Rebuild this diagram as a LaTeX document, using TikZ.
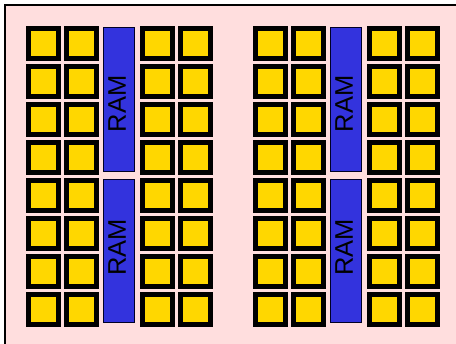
\documentclass[tikz,border=0pt]{standalone}
\usepackage{fontspec}
\setsansfont{Liberation Sans}
\definecolor{board}{RGB}{255,222,222}
\definecolor{core}{RGB}{255,215,0}
\definecolor{ramblue}{RGB}{51,51,221}
\tikzset{
	cell/.style={draw=black, line width=5pt, fill=core, minimum size=30pt, inner sep=0pt},
	ram/.style={draw=black!85!blue, line width=1pt, fill=ramblue, minimum width=31.5pt, minimum height=143.5pt, inner sep=0pt},
	ramlabel/.style={rotate=90, inner sep=0pt, font=\sffamily\fontsize{25.5}{26}\selectfont}
}
\begin{document}
\begin{tikzpicture}[x=1pt,y=-1pt]
			\clip (0,0) rectangle (456,344);
			\draw [line width=2pt, fill=board] (5,5) rectangle (470,360);
			
			% two groups of cores, each with two RAM banks in the middle
			\foreach \g in {0,1} {
				\foreach \r in {0,...,7} {
					\foreach \c/\cx in {0/43.5,1/81.5,2/157.5,3/195.5}
						\node [cell] (cell-\g-\r-\c) at ({\cx+227*\g},{43.5+38*\r}) {};
				}
				\node [ram] (ram-\g-top) at ({118.75+227*\g},99.75) {};
				\node [ram] (ram-\g-bot) at ({118.75+227*\g},251) {};
				\node [ramlabel] (ramlabel-\g-top) at ({117+227*\g},104) {RAM};
				\node [ramlabel] (ramlabel-\g-bot) at ({117+227*\g},247.4) {RAM};
			}
			\end{tikzpicture}
\end{document}
